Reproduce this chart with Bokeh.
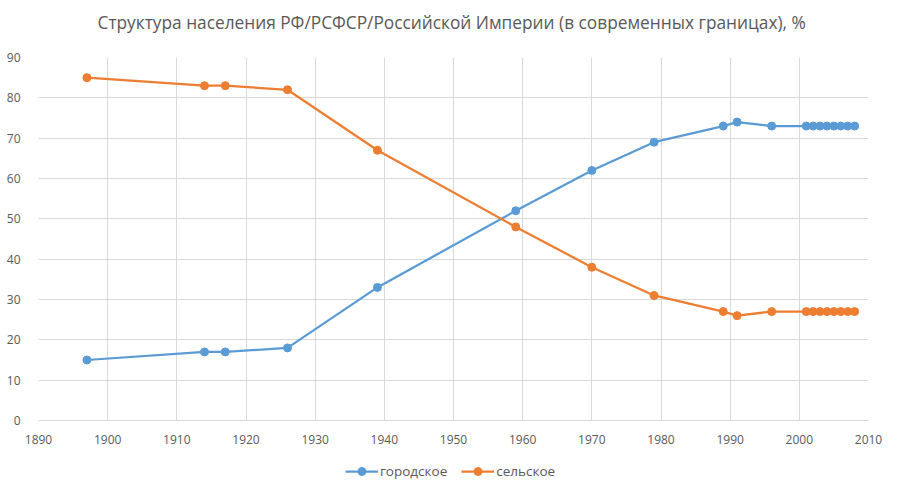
from bokeh.plotting import figure
from bokeh.models import ColumnDataSource, Legend, LegendItem, FixedTicker, Range1d, Label
from bokeh.layouts import column
from bokeh.embed import file_html
from bokeh.resources import INLINE

years = [1897, 1914, 1917, 1926, 1939, 1959, 1970, 1979, 1989, 1991, 1996,
         2001, 2002, 2003, 2004, 2005, 2006, 2007, 2008]
urban = [15, 17, 17, 18, 33, 52, 62, 69, 73, 74, 73, 73, 73, 73, 73, 73, 73, 73, 73]
rural = [85, 83, 83, 82, 67, 48, 38, 31, 27, 26, 27, 27, 27, 27, 27, 27, 27, 27, 27]
x_ticks = list(range(1890, 2011, 10))
y_ticks = list(range(0, 91, 10))
title_text = "Структура  населения РФ/РСФСР/Российской Империи (в современных границах), %"
names = ["городское", "сельское"]
colors = ["#5B9BD5", "#ED7D31"]

src = ColumnDataSource(dict(x=years, u=urban, r=rural))

FONT = "Open Sans"
GRAY = "#595959"


def strip(h, rng=(0, 1)):
    f = figure(width=902, height=h, output_backend="svg", toolbar_location=None,
               x_range=Range1d(*rng), y_range=Range1d(*rng),
               min_border=0, outline_line_color=None,
               background_fill_color="white", border_fill_color="white")
    f.axis.visible = False
    f.grid.visible = False
    return f


# title strip
tf = strip(40)
tf.add_layout(Label(x=59, y=18, x_units="screen", y_units="screen",
                    text=title_text, text_align="left", text_baseline="middle",
                    text_font=FONT, text_font_size="17.3px", text_color=GRAY))

# main chart
p = figure(width=902, height=418, output_backend="svg", toolbar_location=None,
           x_range=Range1d(1890, 2010), y_range=Range1d(0, 90),
           min_border_left=38, min_border_right=34, min_border_top=17,
           min_border_bottom=38, background_fill_color="white",
           border_fill_color="white", outline_line_color=None)

for ax in (p.xaxis[0], p.yaxis[0]):
    ax.major_label_text_font = FONT
    ax.major_label_text_font_size = "12px"
    ax.major_label_text_color = GRAY
    ax.major_tick_line_color = None
    ax.minor_tick_line_color = None

p.xaxis.ticker = FixedTicker(ticks=x_ticks)
p.yaxis.ticker = FixedTicker(ticks=y_ticks)
p.yaxis.axis_line_color = None
p.yaxis.major_label_standoff = 12
p.xaxis.axis_line_color = "#D9D9D9"
p.xaxis.major_label_standoff = 8

p.xgrid.ticker = FixedTicker(ticks=x_ticks)
p.ygrid.ticker = FixedTicker(ticks=y_ticks)
p.xgrid.grid_line_color = "#D9D9D9"
p.ygrid.grid_line_color = "#D9D9D9"

# legend strip below the chart (its glyphs sit outside its own ranges)
lg = strip(36, (-10, -9))

items = []
for col, name, c in zip(["u", "r"], names, colors):
    p.line("x", col, source=src, line_color=c, line_width=2.25)
    p.scatter("x", col, source=src, size=8, fill_color=c, line_color=c)
    l = lg.line("x", col, source=src, line_color=c, line_width=2.25)
    s = lg.scatter("x", col, source=src, size=6, fill_color=c, line_color=c)
    items.append(LegendItem(label=name, renderers=[l, s]))

legend = Legend(items=items, orientation="horizontal", location=(307, 13),
                label_text_font=FONT, label_text_font_size="13.5px",
                label_text_color=GRAY, border_line_color=None,
                background_fill_alpha=0, glyph_width=33, spacing=14,
                label_standoff=2, margin=0, padding=4)
lg.add_layout(legend, "center")

layout = column(tf, p, lg, spacing=0)
open("out.html", "w").write(file_html(layout, INLINE))
